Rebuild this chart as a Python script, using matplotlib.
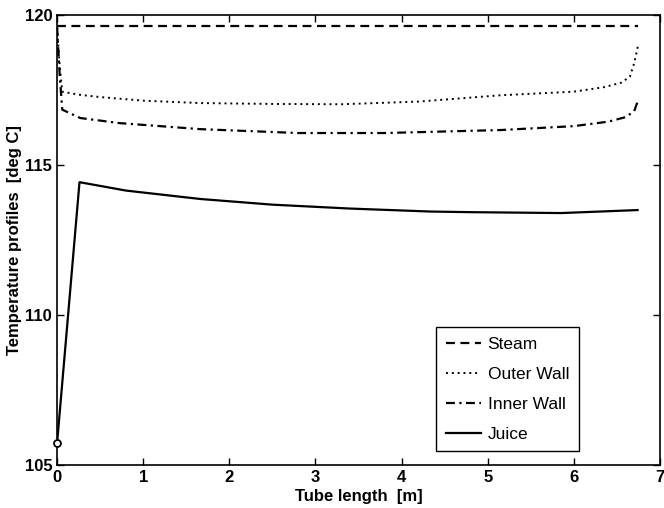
import matplotlib.pyplot as plt

# data
x_steam = [0.0, 6.75]
steam = [119.63, 119.63]

x_outer = [0.0, 0.03, 0.06, 0.25, 0.5, 1.0, 1.66, 2.5, 3.3, 4.2, 5.15, 6.0, 6.35, 6.55, 6.65, 6.70, 6.75]
outer = [119.6, 118.3, 117.45, 117.35, 117.27, 117.15, 117.07, 117.04, 117.03, 117.12, 117.33, 117.45, 117.6, 117.75, 117.95, 118.4, 119.05]

x_inner = [0.0, 0.03, 0.06, 0.27, 0.73, 1.66, 2.8, 3.8, 5.15, 6.0, 6.4, 6.6, 6.7, 6.75]
inner = [119.6, 118.0, 116.85, 116.57, 116.4, 116.2, 116.07, 116.07, 116.17, 116.3, 116.45, 116.6, 116.8, 117.2]

x_juice = [0.0, 0.26, 0.8, 1.66, 2.5, 3.4, 4.34, 4.8, 5.85, 6.3, 6.74]
juice = [105.73, 114.43, 114.15, 113.87, 113.68, 113.55, 113.45, 113.43, 113.4, 113.45, 113.5]

plt.rcParams['font.family'] = ['Liberation Sans', 'DejaVu Sans']
plt.rcParams['font.weight'] = 'bold'

fig = plt.figure(figsize=(6.64, 5.08), dpi=100)
ax = fig.add_axes([0.086, 0.085, 0.908, 0.885])

ax.plot(x_steam, steam, 'k', ls=(0, (4, 2.5)), lw=1.6, label='Steam')
ax.plot(x_outer, outer, 'k', ls=(0, (1, 2)), lw=1.4, label='Outer Wall')
ax.plot(x_inner, inner, 'k', ls=(0, (4, 2, 1, 2)), lw=1.6, label='Inner Wall')
ax.plot(x_juice, juice, 'k', lw=1.6, label='Juice')
ax.plot(x_juice[0], juice[0], 'o', mfc='white', mec='k', ms=5, mew=1.3,
        clip_on=False, zorder=5)

ax.set_xlim(0, 7)
ax.set_ylim(105, 120)
ax.set_xticks(range(0, 8))
ax.set_yticks([105, 110, 115, 120])
ax.tick_params(direction='in', top=True, right=True, labelsize=12, length=5, width=1)
for lab in ax.get_xticklabels() + ax.get_yticklabels():
    lab.set_fontweight('bold')
for s in ax.spines.values():
    s.set_linewidth(1.2)

ax.set_xlabel('Tube length  [m]', fontsize=12, fontweight='bold', labelpad=3)
ax.set_ylabel('Temperature profiles  [deg C]', fontsize=12, fontweight='bold', labelpad=2)

leg = ax.legend(loc='lower right', bbox_to_anchor=(0.865, 0.03), fancybox=False,
                framealpha=1, edgecolor='k', fontsize=12.5, handlelength=2.0,
                borderpad=0.55, labelspacing=0.85, handletextpad=0.4,
                borderaxespad=0)
leg.get_frame().set_linewidth(1.0)
for t in leg.get_texts():
    t.set_fontweight('normal')

fig.savefig('out.png', dpi=100)
